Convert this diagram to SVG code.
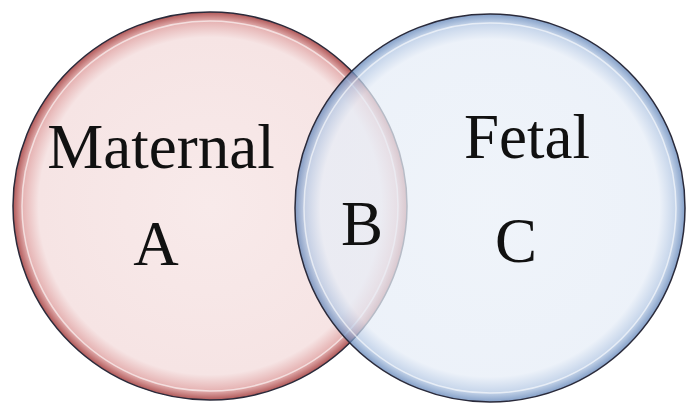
<svg xmlns="http://www.w3.org/2000/svg" width="687" height="406" viewBox="0 0 687 406">
<defs>
<radialGradient id="gRed" cx="0.5" cy="0.5" r="0.5">
<stop offset="0" stop-color="#f8eaea"/>
<stop offset="0.87" stop-color="#f6e4e4"/>
<stop offset="0.95" stop-color="#e6b4b4"/>
<stop offset="1" stop-color="#b05858"/>
</radialGradient>
<radialGradient id="gBlue" cx="0.5" cy="0.5" r="0.5">
<stop offset="0" stop-color="#eaf0f8"/>
<stop offset="0.87" stop-color="#e6edf7"/>
<stop offset="0.95" stop-color="#b4c8e4"/>
<stop offset="1" stop-color="#5a7fb5"/>
</radialGradient>
<style>
.lbl{font-family:"Liberation Serif","Times New Roman",serif;font-size:63px;fill:#111;text-anchor:middle}
.edge{fill:none;stroke:#2a2a3a;stroke-width:1.5}
.hl{fill:none;stroke:#ffffff;stroke-width:1.5;stroke-opacity:0.6}
</style>
</defs>
<rect width="687" height="406" fill="#ffffff"/>
<g id="maternal">
<ellipse cx="210" cy="206" rx="197" ry="194" fill="url(#gRed)"/>
<ellipse cx="210" cy="206" rx="188" ry="185" class="hl"/>
<ellipse cx="210" cy="206" rx="197" ry="194" class="edge"/>
</g>
<g id="fetal">
<ellipse cx="490" cy="208" rx="195" ry="194" fill="url(#gBlue)" fill-opacity="0.74"/>
<ellipse cx="490" cy="208" rx="186" ry="185" class="hl"/>
<ellipse cx="490" cy="208" rx="195" ry="194" class="edge"/>
</g>
<g id="labels">
<text class="lbl" x="161" y="168">Maternal</text>
<text class="lbl" x="156" y="265">A</text>
<text class="lbl" x="362" y="245">B</text>
<text class="lbl" x="527" y="158">Fetal</text>
<text class="lbl" x="516" y="262">C</text>
</g>
<g id="connectors"/>
</svg>
